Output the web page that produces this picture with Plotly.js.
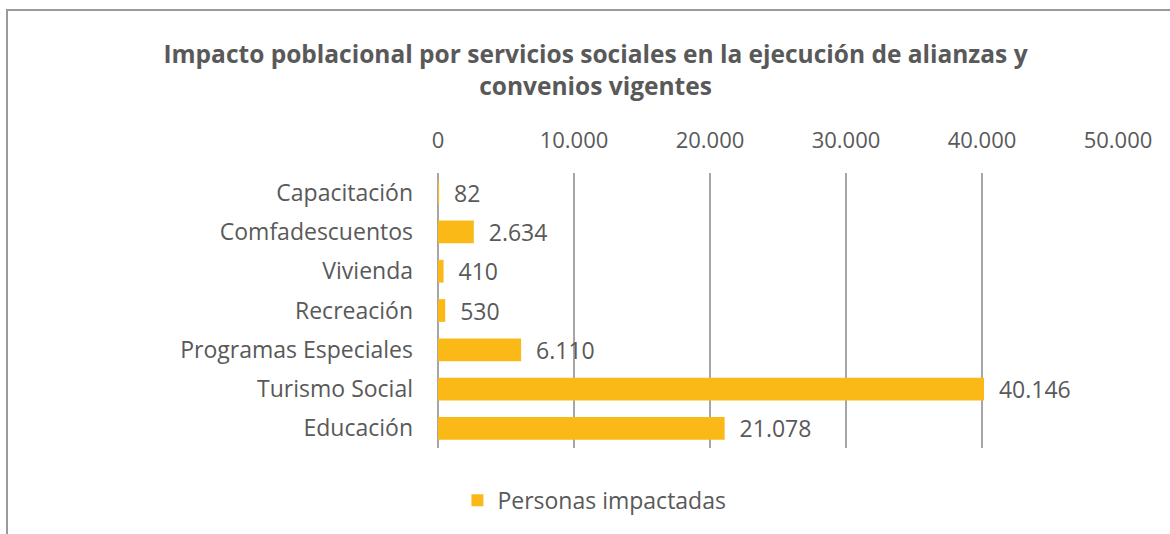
<!DOCTYPE html>
<html>
<head>
<meta charset="utf-8">
<script src="https://cdn.plot.ly/plotly-3.0.1.min.js"></script>
<style>
html,body{margin:0;padding:0;background:#fff;overflow:hidden;}
#chart{position:absolute;left:0;top:0;width:1170px;height:534px;}
#frame{position:absolute;left:6px;top:9px;width:1200px;height:600px;border-left:2px solid #9a9a9a;border-top:2px solid #9a9a9a;pointer-events:none;}
</style>
</head>
<body>
<div id="chart"></div>
<div id="frame"></div>
<script>
const categories = ["Educación", "Turismo Social", "Programas Especiales", "Recreación", "Vivienda", "Comfadescuentos", "Capacitación"];
const values = [21078, 40146, 6110, 530, 410, 2634, 82];
const seriesName = "Personas impactadas";
const xTicks = [0, 10000, 20000, 30000, 40000, 50000];
const xTickLabels = ["0", "10.000", "20.000", "30.000", "40.000", "50.000"];
const titleText = "Impacto poblacional por servicios sociales en la ejecución de alianzas y<br>convenios vigentes";

const FONT = "'Open Sans', Lato, sans-serif";
const GREY = "#595959";

const trace = {
  type: "bar",
  orientation: "h",
  y: categories,
  x: values,
  name: seriesName,
  marker: {color: "#FBB918"},
  width: 0.58,
  texttemplate: "\u00A0\u00A0%{x:,}",
  textposition: "outside",
  constraintext: "none",
  cliponaxis: false,
  textfont: {family: FONT, size: 23, color: GREY},
  hoverinfo: "x+y"
};

const layout = {
  width: 1170,
  height: 534,
  margin: {l: 438, r: 52, t: 173, b: 86},
  paper_bgcolor: "#ffffff",
  plot_bgcolor: "#ffffff",
  separators: ",.",
  font: {family: FONT, color: GREY},
  title: {
    text: titleText,
    font: {family: FONT, size: 24.5, color: GREY, weight: "bold"},
    x: 0.509, xref: "container", xanchor: "center",
    y: 0.882, yref: "container", yanchor: "middle"
  },
  xaxis: {
    side: "top",
    range: [0, 50000],
    tickvals: xTicks,
    ticktext: xTickLabels,
    showgrid: true,
    gridcolor: "#a6a6a6",
    gridwidth: 1.5,
    zeroline: true,
    zerolinecolor: "#a6a6a6",
    zerolinewidth: 1.5,
    showline: false,
    ticks: "",
    ticklabelstandoff: 20,
    tickfont: {family: FONT, size: 22, color: GREY},
    fixedrange: true
  },
  yaxis: {
    type: "category",
    categoryorder: "array",
    categoryarray: categories,
    showgrid: false,
    zeroline: false,
    showline: false,
    ticks: "",
    ticklabelstandoff: 24,
    tickfont: {family: FONT, size: 23, color: GREY},
    fixedrange: true
  },
  showlegend: true,
  legend: {
    orientation: "h",
    x: 0.230, xanchor: "center",
    y: -0.19, yanchor: "middle",
    font: {family: FONT, size: 23, color: GREY},
    itemwidth: 30
  },
  bargap: 0.42
};

Plotly.newPlot("chart", [trace], layout, {displayModeBar: false, staticPlot: true});
</script>
</body>
</html>
